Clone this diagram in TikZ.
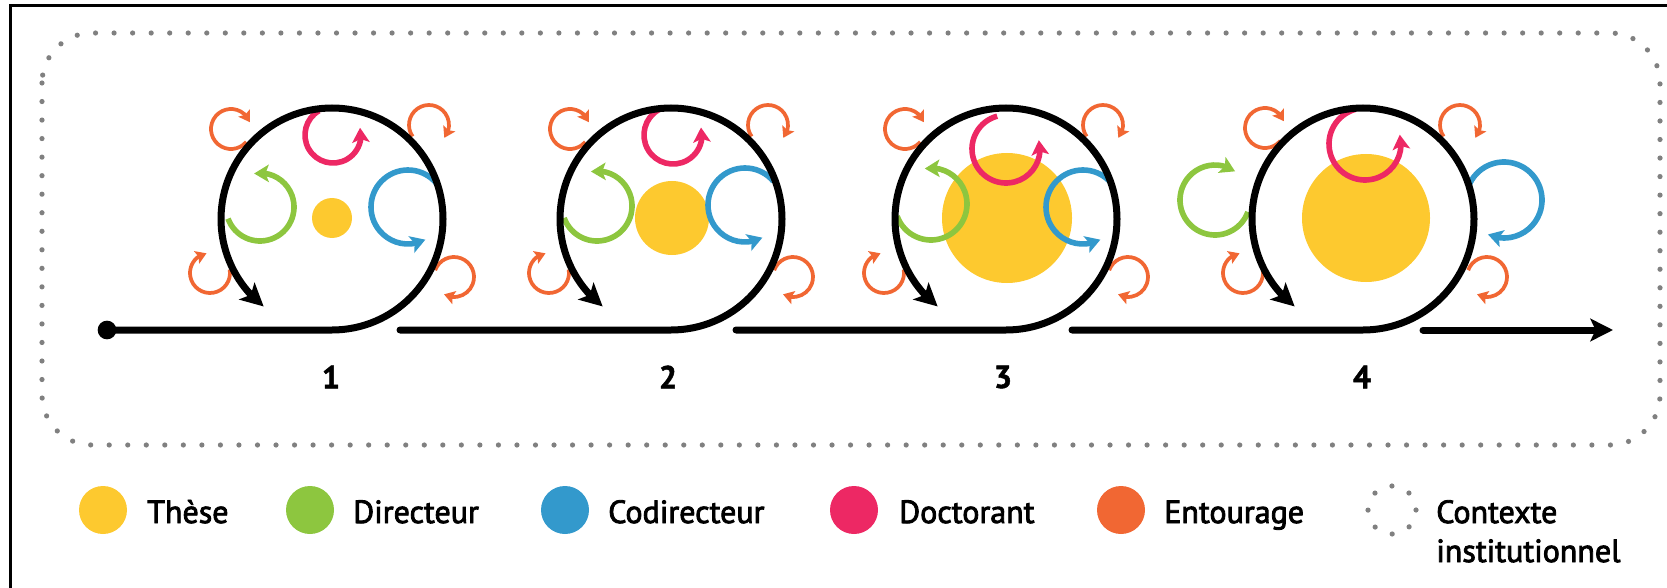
\documentclass[tikz,border=0pt]{standalone}
\usepackage{fontspec}
\setmainfont{PT Sans}
\newfontfamily\legfont{PT Sans}[FakeBold=2.6]
\newfontfamily\numfont{PT Sans}[UprightFont={* Bold}, FakeBold=1.5]
\usetikzlibrary{arrows.meta,bending}

\definecolor{theseYellow}{RGB}{253,201,47}
\definecolor{dirGreen}{RGB}{141,198,63}
\definecolor{codirBlue}{RGB}{51,153,204}
\definecolor{doctPink}{RGB}{237,40,100}
\definecolor{entOrange}{RGB}{241,103,51}
\definecolor{ctxGray}{RGB}{128,128,128}

\tikzset{
  track/.style={line width=5.25pt, line cap=round},
  trackend/.style={track, -{Stealth[length=17pt,width=17pt,inset=4pt]}},
  spin/.style={line width=4.2pt, -{Stealth[length=11pt,width=13pt,inset=2.5pt]}},
  entour/.style={draw=entOrange, line width=2.8pt, -{Stealth[length=8pt,width=10pt,inset=1.5pt]}},
  ctx/.style={draw=ctxGray, line width=3.9pt, line cap=round, dash pattern=on 0pt off 13.9pt},
  legdot/.style={circle, inner sep=0pt, minimum size=36pt},
  legtext/.style={anchor=base west, inner sep=0pt, font=\legfont\fontsize{24}{30}\selectfont},
  steplabel/.style={font=\numfont\fontsize{24}{28}\selectfont},
}

\begin{document}
\begin{tikzpicture}[x=0.75pt,y=0.75pt,yscale=-1,xscale=1]
  \useasboundingbox (0,0) rectangle (1667,588);

  %Frame
  \draw[line width=2.25pt] (10,588) -- (10,6) -- (1667,6);
  %Dotted rounded rect (contexte)
  \draw[ctx, rounded corners=37.5pt] (42,33) rectangle (1660,445);

  %Loop 1
  \begin{scope}[shift={(332,219)}]
    \fill[theseYellow] (0,-1) circle (20);
    \draw[spin, dirGreen] ([shift={(-200:34)}]-72,-12) arc[start angle=-200, end angle=-460, radius=34];
    \draw[spin, doctPink] ([shift={(-120:28)}]1,-84) arc[start angle=-120, end angle=-375, radius=28];
    \draw[spin, codirBlue] ([shift={(-40:37)}]76,-12) arc[start angle=-40, end angle=-298, radius=37];
    \draw[entour] ([shift={(40:20)}]-101,-90) arc[start angle=40, end angle=340, radius=20];
    \draw[entour] ([shift={(-215:20)}]97,-94) arc[start angle=-215, end angle=40, radius=20];
    \draw[entour] ([shift={(-10:20)}]-122,54) arc[start angle=-10, end angle=260, radius=20];
    \draw[entour] ([shift={(-160:20)}]122,58) arc[start angle=-160, end angle=120, radius=20];
  \end{scope}

  %Loop 2
  \begin{scope}[shift={(671,219)}]
    \fill[theseYellow] (1,-1) circle (37);
    \draw[spin, dirGreen] ([shift={(-200:35)}]-74,-13) arc[start angle=-200, end angle=-460, radius=35];
    \draw[spin, doctPink] ([shift={(-120:29)}]2,-84) arc[start angle=-120, end angle=-375, radius=29];
    \draw[spin, codirBlue] ([shift={(-40:37)}]74,-14) arc[start angle=-40, end angle=-298, radius=37];
    \draw[entour] ([shift={(40:20)}]-101,-90) arc[start angle=40, end angle=340, radius=20];
    \draw[entour] ([shift={(-215:20)}]97,-94) arc[start angle=-215, end angle=40, radius=20];
    \draw[entour] ([shift={(-10:20)}]-122,54) arc[start angle=-10, end angle=260, radius=20];
    \draw[entour] ([shift={(-160:20)}]122,58) arc[start angle=-160, end angle=120, radius=20];
  \end{scope}

  %Loop 3
  \begin{scope}[shift={(1006,219)}]
    \fill[theseYellow] (1,-1) circle (65);
    \draw[spin, dirGreen] ([shift={(-200:36)}]-75,-15) arc[start angle=-200, end angle=-460, radius=36];
    \draw[spin, doctPink] ([shift={(-105:34)}]0,-70) arc[start angle=-105, end angle=-375, radius=34];
    \draw[spin, codirBlue] ([shift={(-40:37)}]77,-12) arc[start angle=-40, end angle=-298, radius=37];
    \draw[entour] ([shift={(40:20)}]-101,-90) arc[start angle=40, end angle=340, radius=20];
    \draw[entour] ([shift={(-215:20)}]97,-94) arc[start angle=-215, end angle=40, radius=20];
    \draw[entour] ([shift={(-10:20)}]-122,54) arc[start angle=-10, end angle=260, radius=20];
    \draw[entour] ([shift={(-160:20)}]122,58) arc[start angle=-160, end angle=120, radius=20];
  \end{scope}

  %Loop 4
  \begin{scope}[shift={(1363,219)}]
    \fill[theseYellow] (3,-1) circle (64);
    \draw[spin, dirGreen] ([shift={(20:35)}]-148,-19) arc[start angle=20, end angle=305, radius=35];
    \draw[spin, doctPink] ([shift={(-105:36)}]2,-75) arc[start angle=-105, end angle=-375, radius=36];
    \draw[spin, codirBlue] ([shift={(-160:38)}]141,-19) arc[start angle=-160, end angle=115, radius=38];
    \draw[entour] ([shift={(40:20)}]-98,-91) arc[start angle=40, end angle=340, radius=20];
    \draw[entour] ([shift={(-215:20)}]97,-94) arc[start angle=-215, end angle=40, radius=20];
    \draw[entour] ([shift={(-10:20)}]-120,54) arc[start angle=-10, end angle=260, radius=20];
    \draw[entour] ([shift={(-160:20)}]124,58) arc[start angle=-160, end angle=120, radius=20];
  \end{scope}

  %Track
  \node[circle, fill, inner sep=0pt, minimum size=14pt] (start) at (107,330) {};
  \coordinate (b1) at (332,330); \coordinate (s1) at (400,330);
  \coordinate (b2) at (671,330); \coordinate (s2) at (736,330);
  \coordinate (b3) at (1006,330); \coordinate (s3) at (1072,330);
  \coordinate (b4) at (1363,330); \coordinate (s4) at (1423,330);
  \coordinate (fin) at (1613,330);
  \draw[trackend] (start.center) -- (b1) arc[start angle=90, end angle=-232, radius=111];
  \draw[trackend] (s1) -- (b2) arc[start angle=90, end angle=-232, radius=111];
  \draw[trackend] (s2) -- (b3) arc[start angle=90, end angle=-232, radius=111];
  \draw[trackend] (s3) -- (b4) arc[start angle=90, end angle=-232, radius=111];
  \draw[trackend] (s4) -- (fin);

  % Step labels
  \node[steplabel] (n1) at (331,377) {1};
  \node[steplabel] (n2) at (668,377) {2};
  \node[steplabel] (n3) at (1003,377) {3};
  \node[steplabel] (n4) at (1362,377) {4};

  %Legend
  \node[legdot, fill=theseYellow] (lthese) at (103,510) {};
  \node[legtext] (tthese) at (147,523) {Thèse};
  \node[legdot, fill=dirGreen] (ldir) at (310,510) {};
  \node[legtext] (tdir) at (353,523) {Directeur};
  \node[legdot, fill=codirBlue] (lcodir) at (565,510) {};
  \node[legtext] (tcodir) at (608,523) {Codirecteur};
  \node[legdot, fill=doctPink] (ldoct) at (854,510) {};
  \node[legtext] (tdoct) at (899,523) {Doctorant};
  \node[legdot, fill=entOrange] (lent) at (1121,510) {};
  \node[legtext] (tent) at (1164,523) {Entourage};
  \node[legdot, draw=ctxGray, line width=3.9pt, line cap=round, dash pattern=on 0pt off 14.137pt] (lctx) at (1392,510) {};
  \node[legtext] (tctx) at (1436,523) {Contexte};
  \node[legtext] (tctx2) at (1436,562) {institutionnel};

\end{tikzpicture}
\end{document}
